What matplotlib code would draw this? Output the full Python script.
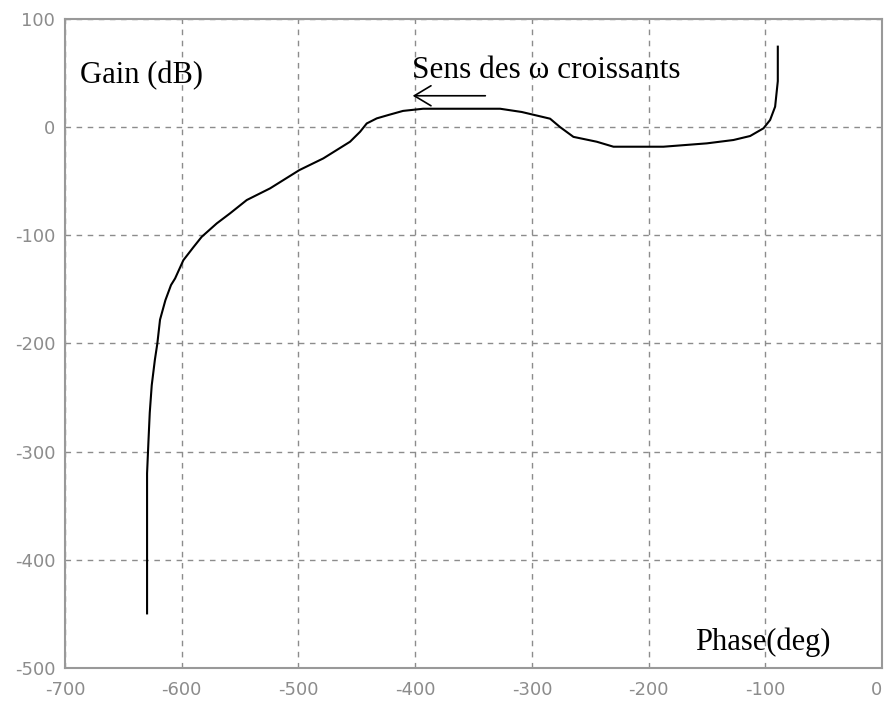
"""
Black-Nichols plot: gain (dB) against phase (deg)
"""
import matplotlib
matplotlib.use("Agg")
import matplotlib.pyplot as plt

plt.rcParams["axes.unicode_minus"] = False

# curve read along increasing phase
phase = [-629.7, -629.7, -628.5, -627.4, -625.7, -623.0, -620.9, -618.6,
         -614.0, -609.2, -605.7, -598.6, -590.0, -582.9, -570.0, -558.6,
         -544.3, -524.3, -499.2, -478.7, -455.8, -447.2, -441.5, -432.9,
         -423.0, -410.4, -393.2, -327.2, -308.7, -293.0, -284.4, -275.8,
         -264.4, -244.4, -230.1, -187.3, -150.1, -127.3, -113.0, -101.6,
         -95.9, -91.6, -89.3, -89.3]
gain = [-449.5, -320.0, -290.0, -264.0, -238.6, -215.0, -200.0, -178.0,
        -160.0, -146.0, -139.9, -123.0, -111.0, -101.4, -89.0, -79.7,
        -67.4, -56.6, -39.7, -28.9, -13.5, -4.3, 3.4, 8.1,
        11.2, 15.0, 17.0, 17.0, 14.0, 10.0, 7.8, 0.0,
        -9.0, -13.5, -18.1, -18.1, -15.0, -11.9, -8.2, -1.1,
        6.6, 18.9, 42.5, 74.4]

x_ticks = [-700, -600, -500, -400, -300, -200, -100, 0]
y_ticks = [-500, -400, -300, -200, -100, 0, 100]

GREY = "#8c8c8c"
SERIF = "Liberation Serif"

fig = plt.figure(figsize=(8.87, 7.02), dpi=100)
axe = fig.add_axes([0.0733, 0.0484, 0.9211, 0.9246])

axe.plot(phase, gain, color="black", linewidth=1.5)

axe.set_xlim(-700, 0)
axe.set_ylim(-500, 100)
axe.set_xticks(x_ticks)
axe.set_yticks(y_ticks)
axe.tick_params(length=0, colors=GREY, labelsize=13)
axe.tick_params(axis="x", pad=9)
axe.tick_params(axis="y", pad=7)
# keep the "0" label inside the canvas
axe.get_xticklabels()[-1].set_horizontalalignment("right")
axe.grid(True, color=GREY, linestyle=(0, (4, 4)), linewidth=1)
for spine in axe.spines.values():
    spine.set_color("#999999")
    spine.set_linewidth(1.5)

axe.text(-687, 48, "Gain (dB)", family=SERIF, fontsize=22, va="center")
axe.text(-402.7, 52.8, "Sens des \u03c9 croissants", family=SERIF,
         fontsize=22.5, va="center")
axe.text(-160, -476, "Phase(deg)", family=SERIF, fontsize=22, va="center")
axe.annotate("", xy=(-404.5, 29), xytext=(-337.5, 29),
             arrowprops=dict(arrowstyle="->,head_length=0.5,head_width=0.3",
                             color="black", linewidth=1.2,
                             mutation_scale=24))

fig.savefig("out.png", dpi=100)
